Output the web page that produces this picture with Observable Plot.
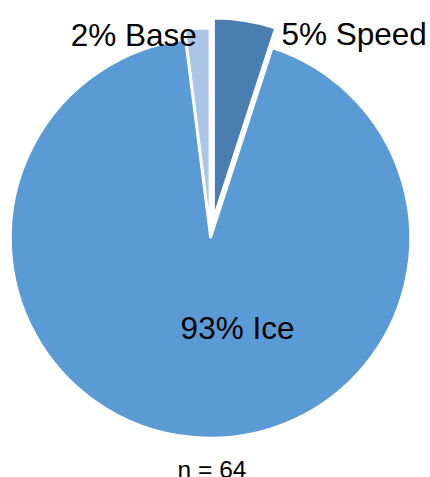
<!DOCTYPE html>
<html>
<head>
<meta charset="utf-8">
<script src="https://cdn.jsdelivr.net/npm/d3@7"></script>
<script src="https://cdn.jsdelivr.net/npm/@observablehq/plot@0.6"></script>
<style>
  html, body { margin: 0; padding: 0; background: #fff; }
</style>
</head>
<body>
<div id="chart"></div>
<script>
// Share of responses by category (clockwise from 12 o'clock)
const categories = ["Speed", "Ice", "Base"];
const percents = [5, 93, 2];
const sampleSize = 64;

// Slice palette and how far each slice is pulled out (fraction of radius)
const palette = ["#4A7EB0", "#5B9BD5", "#ABC5E6"];
const pullOut = { Speed: 0.1, Ice: 0, Base: 0.05 };

// Label placement relative to each slice's mid-angle ray
const labelSpec = {
  Speed: { r: 1.0, anchor: "start", dx: 36, dy: 14 },
  Ice:   { r: 0.45, anchor: "middle", dx: 35, dy: 0.5 },
  Base:  { r: 1.0, anchor: "end", dx: -1, dy: 6.5 }
};

const color = Plot.scale({ color: { type: "ordinal", domain: categories, range: palette } });

const slices = d3.pie().sort(null).value(d => d.pct).startAngle(0)(
  categories.map((category, i) => ({ category, pct: percents[i] }))
);

const mid = s => (s.startAngle + s.endAngle) / 2;

const labels = slices.map(s => {
  const c = s.data.category;
  const spec = labelSpec[c];
  const a = mid(s);
  const rr = spec.r + pullOut[c];
  return { text: `${s.data.pct}% ${c}`, x: Math.sin(a) * rr, y: Math.cos(a) * rr, ...spec };
});

// Pie wedges, drawn with d3.arc in the plot's x/y coordinate system
function pieMark(index, scales, values, dimensions, context) {
  const { x, y } = scales;
  const R = x(1) - x(0);
  const cx = x(0), cy = y(0);
  const arc = d3.arc().innerRadius(0).outerRadius(R);
  const g = d3.create("svg:g");
  const order = [1, 2, 0]; // large slice underneath, pulled slices on top
  for (const i of order) {
    const s = slices[i];
    const c = s.data.category;
    const a = mid(s);
    const off = pullOut[c] * R;
    g.append("path")
      .attr("d", arc(s))
      .attr("transform", `translate(${cx + Math.sin(a) * off},${cy - Math.cos(a) * off})`)
      .attr("fill", color.apply(c))
      .attr("stroke", "#fff")
      .attr("stroke-width", 2.5)
      .attr("stroke-linejoin", "miter");
  }
  return g.node();
}

const textMarks = labels.map(l =>
  Plot.text([l], {
    x: "x", y: "y", text: "text",
    textAnchor: l.anchor, dx: l.dx, dy: l.dy,
    fontSize: 31.5, fill: "#000"
  })
);

const chart = Plot.plot({
  width: 430,
  height: 477,
  marginLeft: 10.5,
  marginRight: 19.5,
  marginTop: 38,
  marginBottom: 39,
  x: { domain: [-1, 1], axis: null },
  y: { domain: [-1, 1], axis: null },
  style: { fontFamily: "'Liberation Sans', Arial, sans-serif", background: "#fff", overflow: "visible" },
  marks: [
    pieMark,
    ...textMarks,
    Plot.text([`n = ${sampleSize}`], { x: () => 0, y: () => -1, dx: 1, dy: 32, fontSize: 24.5, fill: "#000" })
  ]
});

document.getElementById("chart").append(chart);
</script>
</body>
</html>
